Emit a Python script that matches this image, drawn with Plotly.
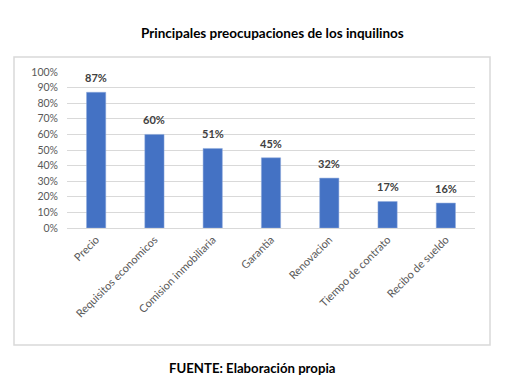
import plotly.graph_objects as go

categories = ["Precio", "Requisitos economicos", "Comision inmobiliaria", "Garantia",
              "Renovacion", "Tiempo de contrato", "Recibo de sueldo"]
values = [0.87, 0.60, 0.51, 0.45, 0.32, 0.17, 0.16]
labels = ["87%", "60%", "51%", "45%", "32%", "17%", "16%"]
y_ticks = [0, 0.1, 0.2, 0.3, 0.4, 0.5, 0.6, 0.7, 0.8, 0.9, 1.0]
y_ticktext = ["0%", "10%", "20%", "30%", "40%", "50%", "60%", "70%", "80%", "90%", "100%"]
title = "Principales preocupaciones de los inquilinos"
footer = "FUENTE: Elaboración propia"

# page body margin offset (browser default 8px)
OFF = 8
W, H = 527 - OFF, 392 - OFF
L, R, T, B = 67 - OFF, 52, 72 - OFF, 164
pw, ph = W - L - R, H - T - B

def px_x(x):
    return (x - OFF - L) / pw

def px_y(y):
    return (H - B - (y - OFF)) / ph

fig = go.Figure(go.Bar(
    x=categories, y=values, width=0.33,
    marker=dict(color="#4472C4", line=dict(color="#8FAADC", width=0.5)),
    hoverinfo="x+y",
))

# data labels placed above each bar
annotations = [
    dict(x=c, y=v, text=t, xref="x", yref="y", showarrow=False,
         yanchor="bottom", yshift=6,
         font=dict(family="Lato", size=11, color="#404040", weight="bold"))
    for c, v, t in zip(categories, values, labels)
]

annotations += [
    dict(text=title, xref="paper", yref="paper", x=px_x(272), y=px_y(33),
         showarrow=False, xanchor="center", yanchor="middle",
         font=dict(family="Lato", size=13.5, color="black", weight="bold")),
    dict(text=footer, xref="paper", yref="paper", x=px_x(252), y=px_y(368),
         showarrow=False, xanchor="center", yanchor="middle",
         font=dict(family="Lato", size=13.2, color="black", weight="bold")),
]

fig.update_layout(
    width=W, height=H, margin=dict(l=L, r=R, t=T, b=B),
    paper_bgcolor="white", plot_bgcolor="white", showlegend=False,
    font=dict(family="Lato", color="#595959"),
    xaxis=dict(tickangle=-45, tickfont=dict(size=11, color="#595959"),
               showgrid=False, showline=True, linecolor="#d9d9d9", linewidth=1,
               ticks="", fixedrange=True),
    yaxis=dict(range=[0, 1.0], tickvals=y_ticks, ticktext=y_ticktext,
               tickfont=dict(size=10.5, color="#595959"),
               showgrid=True, gridcolor="#d9d9d9", gridwidth=1,
               zeroline=False, showline=False, ticks="", ticklabelstandoff=8),
    shapes=[dict(type="rect", xref="paper", yref="paper",
                 x0=px_x(14), x1=px_x(490), y0=px_y(345), y1=px_y(57),
                 line=dict(color="#d9d9d9", width=1.5), layer="below")],
    annotations=annotations,
)

fig.write_html("out.html")
